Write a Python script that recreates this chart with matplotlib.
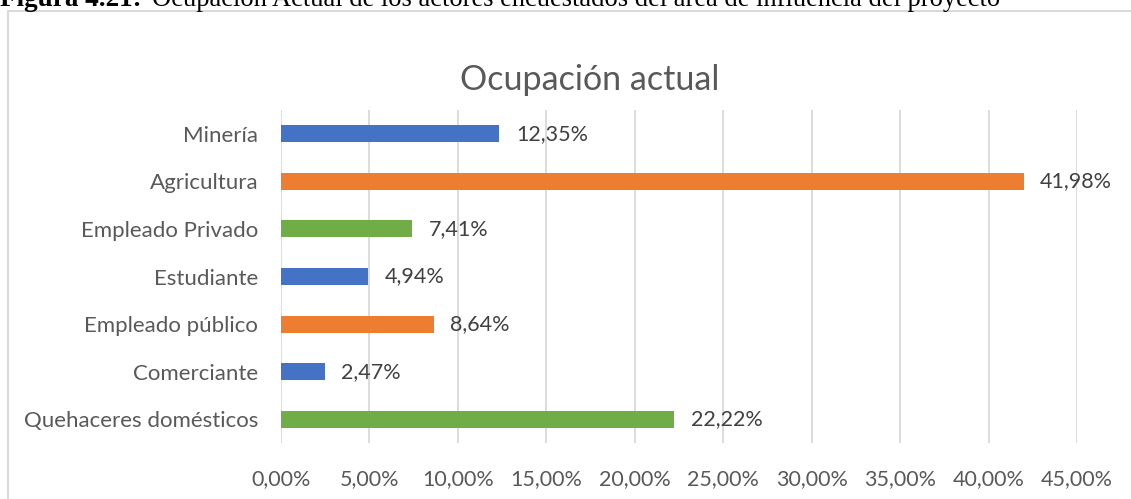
import matplotlib.pyplot as plt
from matplotlib.patches import Rectangle
from matplotlib.ticker import FuncFormatter

categorias = ['Minería', 'Agricultura', 'Empleado Privado', 'Estudiante',
              'Empleado público', 'Comerciante', 'Quehaceres domésticos']
porcentajes = [12.35, 41.98, 7.41, 4.94, 8.64, 2.47, 22.22]
colores = ['#4472C4', '#ED7D31', '#70AD47', '#4472C4', '#ED7D31', '#4472C4', '#70AD47']
ticks = [0, 5, 10, 15, 20, 25, 30, 35, 40, 45]

gris = '#595959'
plt.rcParams['font.family'] = ['Lato', 'DejaVu Sans']

fig = plt.figure(figsize=(11.31, 4.99), dpi=100)
W, H = 1131, 499

# caption (cut off at the top in the source)
fig.text(0 / W, 1 - 6 / H, 'Figura 4.21:', family='Liberation Serif',
         weight='bold', fontsize=19.5, va='baseline', ha='left', color='black')
fig.text(152 / W, 1 - 6 / H,
         'Ocupación Actual de los actores encuestados del área de influencia del proyecto',
         family='Liberation Serif', fontsize=19.1, va='baseline', ha='left', color='black')

# chart frame
fig.patches.append(Rectangle((7.5 / W, -0.1), 1.2, 1 - 11.5 / H + 0.1,
                             transform=fig.transFigure, fill=False,
                             edgecolor='#D9D9D9', linewidth=1.5))

ax = fig.add_axes([281 / W, 1 - 443 / H, (1077 - 281) / W, (443 - 110) / H])
y = list(range(len(categorias)))
ax.barh(y, porcentajes, height=0.36, color=colores, zorder=3)
ax.set_ylim(len(categorias) - 0.5, -0.5)
ax.set_xlim(0, 45)
ax.set_xticks(ticks)
ax.xaxis.set_major_formatter(FuncFormatter(lambda v, p: f'{v:.2f}%'.replace('.', ',')))
ax.set_yticks(y)
ax.set_yticklabels(categorias)
ax.grid(axis='x', color='#D9D9D9', linewidth=1.3, zorder=0)
for s in ax.spines.values():
    s.set_visible(False)
ax.tick_params(length=0, labelsize=15.5, colors=gris)
ax.tick_params(axis='y', pad=16.5, labelsize=16)
ax.tick_params(axis='x', pad=19)

for yi, v in zip(y, porcentajes):
    ax.annotate(f'{v:.2f}%'.replace('.', ','), (v, yi), xytext=(12, 0),
                textcoords='offset points', va='center', ha='left',
                fontsize=15.5, color='#404040')

fig.text(590 / W, 1 - 90 / H, 'Ocupación actual', ha='center', va='baseline',
         fontsize=24.5, color=gris)

fig.savefig('out.png', dpi=100)
